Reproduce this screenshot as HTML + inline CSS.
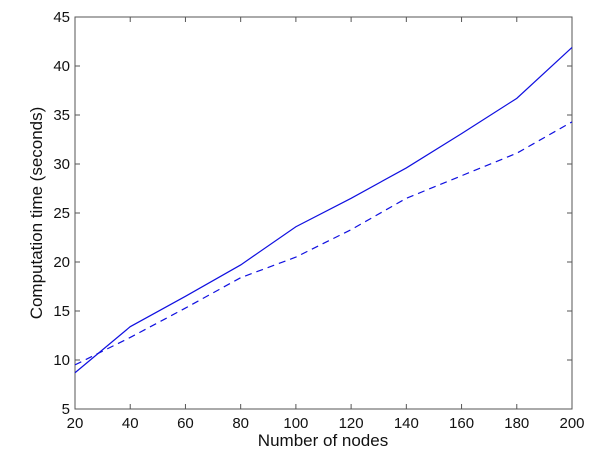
<!DOCTYPE html>
<html><head><style>body{margin:0;background:#fff}svg{display:block}</style></head><body>
<svg width="600" height="462" viewBox="0 0 600 462" xmlns="http://www.w3.org/2000/svg" font-family="Liberation Sans, sans-serif">
<rect width="600" height="462" fill="#fff"/>
<g stroke="#555" stroke-width="1" fill="none">
<rect x="75" y="17" width="497" height="392"/>
</g>
<g stroke="#555" stroke-width="1" id="ticks"></g>
<g font-size="15" fill="#111" text-anchor="middle" id="xl"></g>
<g font-size="15" fill="#111" text-anchor="end" id="yl"></g>
<text x="323" y="446" font-size="17" text-anchor="middle" fill="#111">Number of nodes</text>
<text transform="translate(42,213) rotate(-90)" font-size="17" text-anchor="middle" fill="#111">Computation time (seconds)</text>
<polyline id="s1" fill="none" stroke="#1010e0" stroke-width="1.2"/>
<polyline id="s2" fill="none" stroke="#1010e0" stroke-width="1.2" stroke-dasharray="7,5"/>
<script>
var X=function(v){return 75+(v-20)*497/180},Y=function(v){return 409-(v-5)*9.8};
var ns="http://www.w3.org/2000/svg",t=document.getElementById('ticks'),xl=document.getElementById('xl'),yl=document.getElementById('yl');
function ln(a,b,c,d){var l=document.createElementNS(ns,'line');l.setAttribute('x1',a);l.setAttribute('y1',b);l.setAttribute('x2',c);l.setAttribute('y2',d);t.appendChild(l);}
function tx(g,x,y,s){var e=document.createElementNS(ns,'text');e.setAttribute('x',x);e.setAttribute('y',y);e.textContent=s;g.appendChild(e);}
for(var v=20;v<=200;v+=20){var x=X(v);ln(x,409,x,404);ln(x,17,x,22);tx(xl,x,428,v);}
for(var v=5;v<=45;v+=5){var y=Y(v);ln(75,y,80,y);ln(572,y,567,y);tx(yl,70,y+5,v);}
var xs=[20,40,60,80,100,120,140,160,180,200];
var a=[8.7,13.4,16.5,19.7,23.6,26.5,29.6,33.1,36.7,41.9],b=[9.5,12.3,15.3,18.4,20.5,23.3,26.5,28.8,31.1,34.3];
document.getElementById('s1').setAttribute('points',xs.map(function(v,i){return X(v)+','+Y(a[i])}).join(' '));
document.getElementById('s2').setAttribute('points',xs.map(function(v,i){return X(v)+','+Y(b[i])}).join(' '));
</script>
</svg>
</body></html>
